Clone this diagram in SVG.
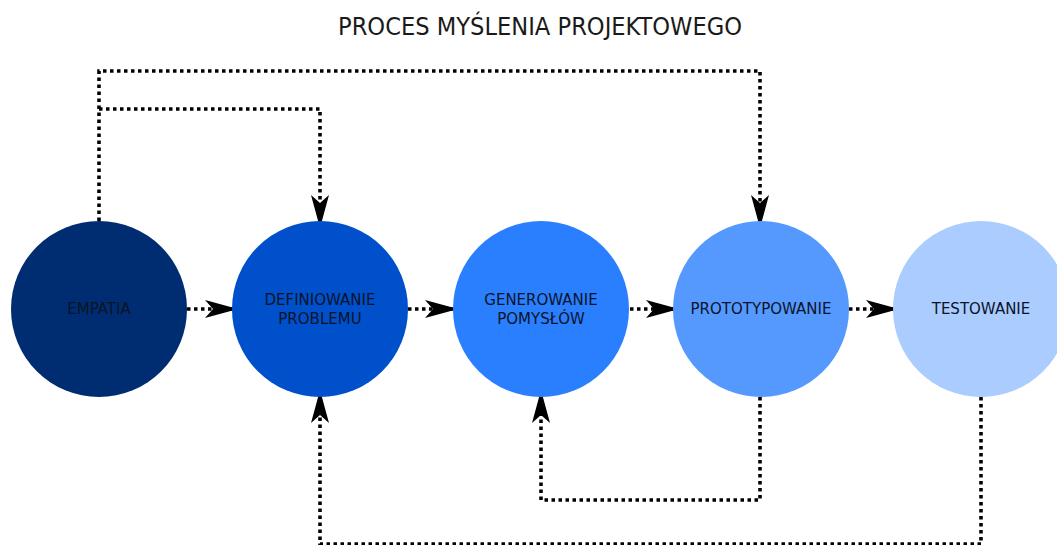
<svg xmlns="http://www.w3.org/2000/svg" width="1057" height="545" viewBox="0 0 1057 545">
<style>
.conn{fill:none;stroke:#000;stroke-width:3.6;stroke-dasharray:3.5 3.5}
.lbl{font-family:"DejaVu Sans",Verdana,sans-serif;font-size:15px;fill:#0a1428;text-anchor:middle}
.title{font-family:"DejaVu Sans Condensed","DejaVu Sans",sans-serif;font-size:24px;fill:#1a1a1a;text-anchor:middle}
</style>
<defs>
<marker id="arr" markerUnits="userSpaceOnUse" markerWidth="40" markerHeight="24" viewBox="-34 -12 36 24" refX="0" refY="0" orient="auto">
<path d="M0,0 L-33,-9 L-25,0 L-33,9 Z" fill="#000"/>
</marker>
</defs>
<rect width="1057" height="545" fill="#fff"/>
<text class="title" x="540" y="35" textLength="404" lengthAdjust="spacingAndGlyphs">PROCES MYŚLENIA PROJEKTOWEGO</text>
<g id="connectors">
<path class="conn" d="M99,221 V71 H760 V228" marker-end="url(#arr)"/>
<path class="conn" d="M99,109 H320 V228" marker-end="url(#arr)"/>
<path class="conn" d="M760,397 V500 H541 V390" marker-end="url(#arr)"/>
<path class="conn" d="M981,397 V544 H320 V390" marker-end="url(#arr)"/>
<path class="conn" d="M187,309 H238" marker-end="url(#arr)"/>
<path class="conn" d="M408,309 H458" marker-end="url(#arr)"/>
<path class="conn" d="M630,309 H679" marker-end="url(#arr)"/>
<path class="conn" d="M849,309 H899" marker-end="url(#arr)"/>
</g>
<g id="empatia">
<circle cx="99" cy="309" r="88" fill="#002d72"/>
<text class="lbl" x="99" y="314">EMPATIA</text>
</g>
<g id="definiowanie">
<circle cx="320" cy="309" r="88" fill="#0050cc"/>
<text class="lbl" x="320" y="305">DEFINIOWANIE</text>
<text class="lbl" x="320" y="324">PROBLEMU</text>
</g>
<g id="generowanie">
<circle cx="541" cy="309" r="88" fill="#2a7fff"/>
<text class="lbl" x="541" y="305">GENEROWANIE</text>
<text class="lbl" x="541" y="324">POMYSŁÓW</text>
</g>
<g id="prototypowanie">
<circle cx="761" cy="309" r="88" fill="#5599ff"/>
<text class="lbl" x="761" y="314">PROTOTYPOWANIE</text>
</g>
<g id="testowanie">
<circle cx="981" cy="309" r="88" fill="#aaccff"/>
<text class="lbl" x="981" y="314">TESTOWANIE</text>
</g>
</svg>
